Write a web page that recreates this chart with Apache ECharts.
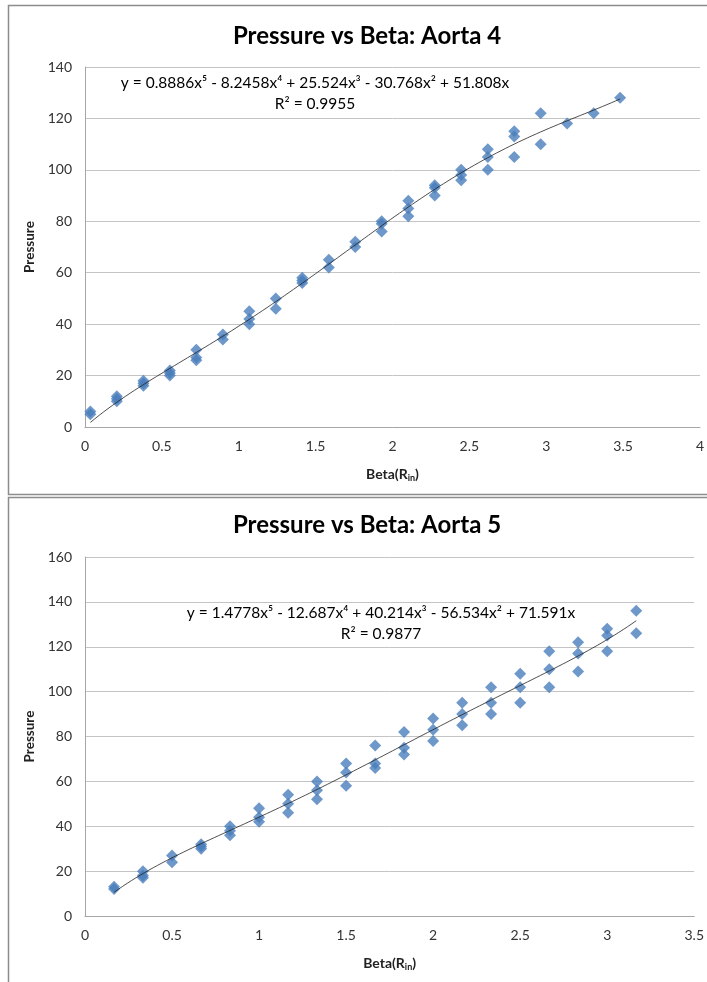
<!DOCTYPE html>
<html><head><meta charset="utf-8">
<script src="https://cdn.jsdelivr.net/npm/echarts@6/dist/echarts.min.js"></script>
<style>html,body{margin:0;padding:0;background:#fff}#c{width:707px;height:982px}</style>
</head><body><div id="c"></div>
<script>
// ---- Aorta 4 ----
const betaA4 = [0.035,0.035, 0.207,0.207,0.207, 0.380,0.380,0.380, 0.552,0.552,0.552, 0.724,0.724,0.724,
  0.897,0.897, 1.069,1.069,1.069, 1.241,1.241, 1.413,1.413,1.413, 1.586,1.586, 1.758,1.758,
  1.930,1.930,1.930, 2.103,2.103,2.103, 2.275,2.275,2.275, 2.447,2.447,2.447, 2.620,2.620,2.620,
  2.792,2.792,2.792, 2.964,2.964, 3.136, 3.309, 3.481];
const pressureA4 = [5,6, 10,11,12, 16,17,18, 20,21,22, 26,27,30,
  34,36, 40,42,45, 46,50, 56,57,58, 62,65, 70,72,
  76,79,80, 82,85,88, 90,93,94, 96,98,100, 100,105,108,
  105,113,115, 110,122, 118, 122, 128];
const coefA4 = [0, 51.808, -30.768, 25.524, -8.2458, 0.8886]; // x^0..x^5 (trendline equation shown)
const eqA4 = 'y = 0.8886x⁵ - 8.2458x⁴ + 25.524x³ - 30.768x² + 51.808x';
const r2A4 = 'R² = 0.9955';
const xTicksA4 = {min: 0, max: 4, interval: 0.5};
const yTicksA4 = {min: 0, max: 140, interval: 20};

// ---- Aorta 5 ----
const betaA5 = [0.167,0.167, 0.333,0.333,0.333, 0.5,0.5, 0.667,0.667,0.667, 0.833,0.833,0.833,
  1.0,1.0,1.0, 1.167,1.167,1.167, 1.333,1.333,1.333, 1.5,1.5,1.5, 1.667,1.667,1.667,
  1.833,1.833,1.833, 2.0,2.0,2.0, 2.167,2.167,2.167, 2.333,2.333,2.333, 2.5,2.5,2.5,
  2.667,2.667,2.667, 2.833,2.833,2.833, 3.0,3.0,3.0, 3.167,3.167];
const pressureA5 = [12,13, 17,18,20, 24,27, 30,31,32, 36,38,40,
  42,44,48, 46,50,54, 52,56,60, 58,64,68, 66,68,76,
  72,75,82, 78,83,88, 85,90,95, 90,95,102, 95,102,108,
  102,110,118, 109,117,122, 118,125,128, 126,136];
const coefA5 = [0, 71.591, -56.534, 40.214, -12.687, 1.4778];
const eqA5 = 'y = 1.4778x⁵ - 12.687x⁴ + 40.214x³ - 56.534x² + 71.591x';
const r2A5 = 'R² = 0.9877';
const xTicksA5 = {min: 0, max: 3.5, interval: 0.5};
const yTicksA5 = {min: 0, max: 160, interval: 20};

const titles = ['Pressure vs Beta: Aorta 4', 'Pressure vs Beta: Aorta 5'];

function poly(c, x){ let s=0; for(let i=c.length-1;i>=0;i--) s = s*x + c[i]; return s; }
function trend(xs, c){
  const lo = Math.min(...xs), hi = Math.max(...xs), out=[];
  const n = 120;
  for(let i=0;i<=n;i++){ const x = lo + (hi-lo)*i/n; out.push([x, poly(c,x)]); }
  return out;
}
function pts(xs, ys){ return xs.map((x,i)=>[x, ys[i]]); }

const FONT = 'Lato';
const grids = [
  {left: 85, top: 67, width: 615, height: 360},
  {left: 85, top: 557, width: 611, height: 359}
];
function xAxis(i, t){
  return {type:'value', gridIndex:i, min:t.min, max:t.max, interval:t.interval,
    axisLine:{show:true, lineStyle:{color:'#a6a6a6', width:1}}, axisTick:{show:false},
    splitLine:{show:false},
    axisLabel:{color:'#333', fontFamily:FONT, fontSize:14, margin:12},
    name:'{b|Beta(R}{s|in}{b|)}', nameLocation:'middle', nameGap:38,
    nameTextStyle:{rich:{b:{fontFamily:FONT, fontWeight:'bold', fontSize:14, color:'#222', lineHeight:18, verticalAlign:'middle'},
      s:{fontFamily:FONT, fontWeight:'bold', fontSize:9, color:'#222', lineHeight:18, verticalAlign:'bottom', padding:[7,0,0,0]}}}};
}
function yAxis(i, t){
  return {type:'value', gridIndex:i, min:t.min, max:t.max, interval:t.interval,
    axisLine:{show:true, lineStyle:{color:'#a6a6a6', width:1}}, axisTick:{show:false},
    splitLine:{show:true, lineStyle:{color:'#c4c4c4', width:1}},
    axisLabel:{color:'#333', fontFamily:FONT, fontSize:14, margin:13},
    name:'Pressure', nameLocation:'middle', nameGap:47, nameRotate:90,
    nameTextStyle:{fontFamily:FONT, fontWeight:'bold', fontSize:13.5, color:'#222'}};
}
const markerStyle = {color:'#4a7ebb'};
const chart = echarts.init(document.getElementById('c'), null, {renderer:'canvas'});
chart.setOption({
  animation:false,
  title:[
    {text:titles[0], left:362, textAlign:'center', top:19, textStyle:{fontFamily:FONT, fontWeight:'bold', fontSize:24, color:'#000'}},
    {text:titles[1], left:362, textAlign:'center', top:508, textStyle:{fontFamily:FONT, fontWeight:'bold', fontSize:24, color:'#000'}}
  ],
  grid:grids,
  xAxis:[xAxis(0,xTicksA4), xAxis(1,xTicksA5)],
  yAxis:[yAxis(0,yTicksA4), yAxis(1,yTicksA5)],
  graphic:[
    {type:'rect', shape:{x:8.5, y:5.5, width:710, height:489}, style:{fill:'none', stroke:'#8c8c8c', lineWidth:1.5}, silent:true},
    {type:'rect', shape:{x:8.5, y:497.5, width:710, height:500}, style:{fill:'none', stroke:'#8c8c8c', lineWidth:1.5}, silent:true},
    {type:'text', x:315, y:83, style:{text:eqA4, fontFamily:FONT, fontSize:15.5, fill:'#000', align:'center', verticalAlign:'middle'}},
    {type:'text', x:315, y:104, style:{text:r2A4, fontFamily:FONT, fontSize:15.5, fill:'#000', align:'center', verticalAlign:'middle'}},
    {type:'text', x:381, y:613, style:{text:eqA5, fontFamily:FONT, fontSize:15.5, fill:'#000', align:'center', verticalAlign:'middle'}},
    {type:'text', x:381, y:634, style:{text:r2A5, fontFamily:FONT, fontSize:15.5, fill:'#000', align:'center', verticalAlign:'middle'}}
  ],
  series:[
    {type:'line', xAxisIndex:0, yAxisIndex:0, data:trend(betaA4, coefA4), showSymbol:false, smooth:false,
      lineStyle:{color:'#222', width:0.8}, z:3},
    {type:'scatter', xAxisIndex:0, yAxisIndex:0, data:pts(betaA4, pressureA4), symbol:'diamond', symbolSize:[12,12],
      itemStyle:markerStyle, z:2},
    {type:'line', xAxisIndex:1, yAxisIndex:1, data:trend(betaA5, coefA5), showSymbol:false, smooth:false,
      lineStyle:{color:'#222', width:0.8}, z:3},
    {type:'scatter', xAxisIndex:1, yAxisIndex:1, data:pts(betaA5, pressureA5), symbol:'diamond', symbolSize:[12,12],
      itemStyle:markerStyle, z:2}
  ]
});
</script></body></html>
